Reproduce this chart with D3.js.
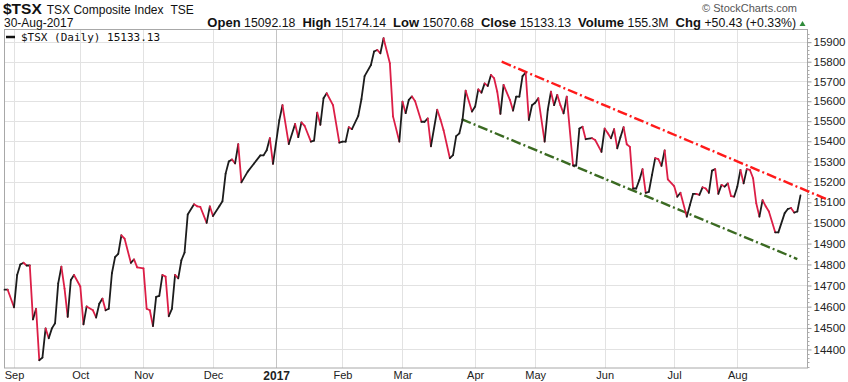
<!DOCTYPE html>
<html><head><meta charset="utf-8">
<script src="https://cdn.jsdelivr.net/npm/d3@7"></script>
<style>body{margin:0;background:#fff} svg{display:block}</style>
</head><body>
<script>
// ---- data (trading-day index from 1-Sep-2016 = 0, daily close) ----
const tradingDay = [-3,-2,0,1,2,3,4,5,6,7,8,9,10,11,12,13,14,15,16,17,18,19,21,22,23,25,26,27,28,29,30,31,32,33,34,35,37,38,39,41,42,43,44,45,46,47,48,49,50,51,52,53,54,55,57,58,59,61,62,63,65,66,67,68,69,70,71,72,74,76,78,79,80,81,82,84,85,87,89,90,91,92,94,95,96,97,98,99,101,103,104,105,106,107,109,110,111,113,114,115,116,117,119,120,122,123,124,125,126,127,129,130,131,132,134,135,136,138,139,140,141,142,143,145,146,147,148,149,150,151,152,153,154,155,157,158,159,160,161,162,163,164,165,166,168,169,170,171,172,173,174,175,177,178,179,180,181,183,184,186,187,188,189,190,191,192,193,194,195,196,197,198,199,200,201,202,203,204,205,206,207,209,210,211,213,214,215,216,217,218,219,220,221,222,223,224,225,226,227,228,229,230,231,232,233,234,235,236,237,238,239,241,242,244,245,246,247,248,249];
const closes = [14680,14680,14597,14750,14800,14808,14795,14795,14540,14590,14350,14362,14498,14452,14498,14522,14710,14790,14685,14552,14726,14750,14695,14517,14601,14583,14549,14614,14638,14583,14590,14758,14835,14851,14940,14924,14808,14824,14786,14781,14590,14583,14509,14646,14651,14750,14742,14555,14590,14750,14734,14820,14857,15040,15090,15080,15077,15000,15080,15033,15080,15105,15240,15300,15310,15290,15385,15197,15250,15290,15330,15330,15355,15415,15288,15505,15580,15386,15486,15420,15494,15477,15398,15403,15543,15482,15615,15640,15580,15393,15398,15398,15470,15460,15527,15610,15727,15783,15852,15860,15843,15920,15792,15524,15398,15598,15540,15607,15624,15600,15497,15497,15514,15375,15557,15509,15455,15316,15331,15425,15439,15506,15653,15548,15573,15660,15643,15690,15677,15733,15716,15648,15536,15682,15607,15553,15623,15623,15727,15744,15506,15580,15592,15615,15398,15557,15648,15580,15632,15580,15539,15623,15280,15280,15463,15472,15410,15415,15406,15347,15463,15440,15415,15460,15365,15420,15470,15385,15372,15167,15167,15209,15262,15146,15151,15234,15316,15311,15278,15355,15212,15179,15127,15146,15030,15087,15141,15141,15136,15173,15167,15146,15255,15262,15141,15185,15176,15192,15130,15127,15176,15258,15192,15262,15258,15217,15095,15030,15110,15080,15055,14954,14954,15047,15067,15072,15050,15055,15133.13];
const monthTickDays = [0,21,41,63,83,104,123,146,165,187,209,229];
const monthTickLabels = ["Sep","Oct","Nov","Dec","2017","Feb","Mar","Apr","May","Jun","Jul","Aug"];
const yTickValues = [14400,14500,14600,14700,14800,14900,15000,15100,15200,15300,15400,15500,15600,15700,15800,15900];
const upperChannelDays = [154.4, 257.1];
const upperChannelValues = [15800, 15116];
const lowerChannelDays = [141.7, 248];
const lowerChannelValues = [15510, 14826];
const headerStats = [["Open","15092.18"],["High","15174.14"],["Low","15070.68"],["Close","15133.13"],["Volume","155.3M"],["Chg","+50.43 (+0.33%)"]];

// ---- layout ----
const W = 848, H = 382;
const L = 4, R = 807, T = 29.5, B = 368;
const FONT = "'Liberation Sans', Arial, sans-serif";

const svg = d3.select("body").append("svg").attr("width", W).attr("height", H);

const x = d3.scaleLinear().domain([0, 229]).range([14, 737.3]);
const y = d3.scaleLog().domain([14314, 15965]).range([B, T]);

// gridlines
const grid = svg.append("g");
grid.selectAll("line.h").data(yTickValues).join("line")
  .attr("x1", L).attr("x2", R)
  .attr("y1", d => Math.round(y(d)) + 0.5).attr("y2", d => Math.round(y(d)) + 0.5)
  .attr("stroke", "#e2e2e2").attr("stroke-width", 1);
grid.selectAll("line.v").data(monthTickDays).join("line")
  .attr("x1", d => Math.round(x(d)) + 0.5).attr("x2", d => Math.round(x(d)) + 0.5)
  .attr("y1", T).attr("y2", B)
  .attr("stroke", (d, i) => monthTickLabels[i] === "2017" ? "#c4c4c4" : "#e2e2e2").attr("stroke-width", 1);

// border
svg.append("rect").attr("x", L + 0.5).attr("y", T).attr("width", R - L).attr("height", B - T)
  .attr("fill", "none").attr("stroke", "#a8a8a8").attr("stroke-width", 1);

// right axis
const yAxis = d3.axisRight(y).tickValues(yTickValues).tickFormat(d3.format("d")).tickSize(4).tickPadding(2);
const ya = svg.append("g").attr("transform", `translate(${R + 0.5},0)`).call(yAxis);
ya.select(".domain").remove();
ya.selectAll("line").attr("stroke", "#999");
ya.selectAll("text").attr("font-family", FONT).attr("font-size", 11.5).attr("fill", "#222");
// minor ticks
const minor = d3.range(14320, 15960, 20).filter(v => v % 100 !== 0);
svg.append("g").selectAll("line").data(minor).join("line")
  .attr("x1", R + 0.5).attr("x2", R + 2.5)
  .attr("y1", d => Math.round(y(d)) + 0.5).attr("y2", d => Math.round(y(d)) + 0.5)
  .attr("stroke", "#aaa");

// bottom axis
const xAxis = d3.axisBottom(x).tickValues(monthTickDays).tickFormat((d, i) => monthTickLabels[i]).tickSize(0).tickPadding(3);
const xa = svg.append("g").attr("transform", `translate(0,${B})`).call(xAxis);
xa.select(".domain").remove();
xa.selectAll("text").attr("font-family", FONT).attr("fill", "#222")
  .attr("font-weight", (d, i) => monthTickLabels[i] === "2017" ? "bold" : "normal")
  .attr("font-size", (d, i) => monthTickLabels[i] === "2017" ? 12 : 11);

// channel lines
const chan = d3.line().x(d => x(d[0])).y(d => y(d[1]));
svg.append("path").attr("d", chan(upperChannelDays.map((d, i) => [d, upperChannelValues[i]])))
  .attr("fill", "none").attr("stroke", "#ff1a1a").attr("stroke-width", 2.4).attr("stroke-dasharray", "10,3,2,3");
svg.append("path").attr("d", chan(lowerChannelDays.map((d, i) => [d, lowerChannelValues[i]])))
  .attr("fill", "none").attr("stroke", "#3b6a22").attr("stroke-width", 2.4).attr("stroke-dasharray", "10,3,2,3");

// price line, segments coloured by direction
const pts = tradingDay.map((d, i) => ({ d, v: closes[i] }));
const segs = d3.pairs(pts);
svg.append("g").selectAll("line").data(segs).join("line")
  .attr("x1", s => x(s[0].d)).attr("y1", s => y(s[0].v))
  .attr("x2", s => x(s[1].d)).attr("y2", s => y(s[1].v))
  .attr("stroke", s => s[1].v >= s[0].v ? "#1c1c1c" : "#dc1e46")
  .attr("stroke-width", 1.8).attr("stroke-linecap", "round");

// legend
svg.append("line").attr("x1", 6).attr("x2", 15).attr("y1", 37).attr("y2", 37).attr("stroke", "#111").attr("stroke-width", 2.5);
svg.append("text").attr("x", 21).attr("y", 40.5).attr("font-family", "'DejaVu Sans Mono', monospace").attr("font-size", 11).attr("fill", "#111")
  .text("$TSX (Daily) " + d3.format(".2f")(closes[closes.length - 1]));

// header
const t1 = svg.append("text").attr("x", 3).attr("y", 14).attr("font-family", FONT).attr("fill", "#111");
t1.append("tspan").attr("font-weight", "bold").attr("font-size", 15.5).text("$TSX");
t1.append("tspan").attr("font-size", 12).attr("dx", 5).text("TSX Composite Index");
t1.append("tspan").attr("font-size", 12).attr("dx", 7).text("TSE");

svg.append("text").attr("x", 4).attr("y", 27).attr("font-family", FONT).attr("font-size", 12).attr("fill", "#111").text("30-Aug-2017");

const st = svg.append("text").attr("x", 796).attr("y", 27).attr("text-anchor", "end").attr("font-family", FONT).attr("fill", "#111");
headerStats.forEach(([k, v], i) => {
  st.append("tspan").attr("font-weight", "bold").attr("font-size", 13).attr("dx", i === 0 ? 0 : 7).text(k);
  st.append("tspan").attr("font-size", 12.3).attr("dx", 3.5).text(v);
});
svg.append("path").attr("d", "M799.5,26 L805.5,26 L802.5,21 Z").attr("fill", "#2e8b3a");

svg.append("text").attr("x", 797).attr("y", 12).attr("text-anchor", "end").attr("font-family", FONT).attr("font-size", 11).attr("fill", "#555").text("\u00A9 StockCharts.com");
</script>
</body></html>
